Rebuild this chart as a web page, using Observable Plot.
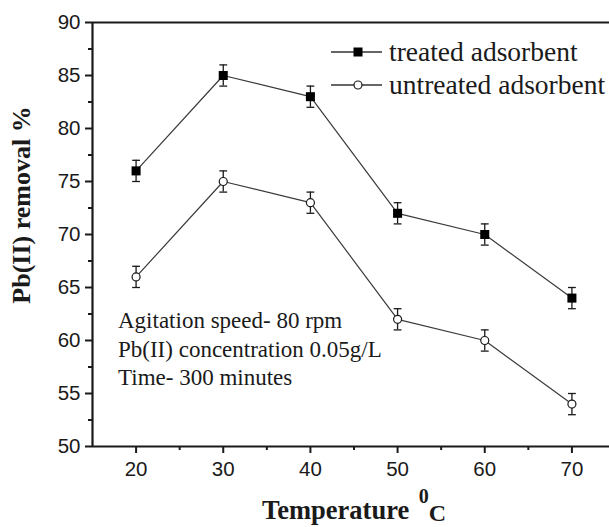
<!DOCTYPE html>
<html><head><meta charset="utf-8">
<script src="https://cdn.jsdelivr.net/npm/d3@7"></script>
<script src="https://cdn.jsdelivr.net/npm/@observablehq/plot@0.6"></script>
<style>
body{margin:0;background:#fff}
#chart{position:relative;width:609px;height:527px;overflow:hidden}
#chart svg text.serif{font-family:"Liberation Serif","Times New Roman",serif !important}
</style>
</head><body><div id="chart"></div>
<script>
const temps = [20, 30, 40, 50, 60, 70];
const treated = [76, 85, 83, 72, 70, 64];
const untreated = [66, 75, 73, 62, 60, 54];
const errTreated = [1, 1, 1, 1, 1, 1];
const errUntreated = [1, 1, 1, 1, 1, 1];
const seriesNames = ["treated adsorbent", "untreated adsorbent"];
const xTicks = [20, 30, 40, 50, 60, 70];
const xMinor = [25, 35, 45, 55, 65];
const yTicks = [50, 55, 60, 65, 70, 75, 80, 85, 90];
const yMinor = [52.5, 57.5, 62.5, 67.5, 72.5, 77.5, 82.5, 87.5];
const annotation = ["Agitation speed- 80 rpm", "Pb(II) concentration 0.05g/L", "Time- 300 minutes"];
const yTitle = "Pb(II) removal %";
const xTitle = "Temperature";

const data = [];
temps.forEach((t, i) => {
  data.push({series: seriesNames[0], t, v: treated[i], e: errTreated[i]});
  data.push({series: seriesNames[1], t, v: untreated[i], e: errUntreated[i]});
});
const dT = data.filter(d => d.series === seriesNames[0]);
const dU = data.filter(d => d.series === seriesNames[1]);

const ink = "#1a1a1a";
const plot = Plot.plot({
  width: 609, height: 527,
  marginLeft: 92, marginTop: 22, marginBottom: 81, marginRight: -6,
  style: {background: "#fff", fontFamily: "'Liberation Sans', Arial, sans-serif", color: ink},
  x: {domain: [15, 75], axis: null},
  y: {domain: [50, 90], axis: null},
  marks: [
    Plot.axisX(xTicks, {label: null, tickSize: 7, tickPadding: 8, fontSize: 20.5, stroke: ink, strokeWidth: 2, fill: ink}),
    Plot.axisX(xMinor, {label: null, tickSize: 4, tickFormat: () => "", stroke: ink, strokeWidth: 2}),
    Plot.axisY(yTicks, {label: null, tickSize: 7, tickPadding: 5, fontSize: 20.5, stroke: ink, strokeWidth: 2, fill: ink}),
    Plot.axisY(yMinor, {label: null, tickSize: 4, tickFormat: () => "", stroke: ink, strokeWidth: 2}),
    Plot.ruleY([50], {stroke: ink, strokeWidth: 2.2}),
    Plot.ruleY([90], {stroke: ink, strokeWidth: 2.2}),
    Plot.ruleX([15], {stroke: ink, strokeWidth: 2.2}),
    Plot.line(data, {x: "t", y: "v", z: "series", stroke: "#3a3a3a", strokeWidth: 1.2}),
    Plot.ruleX(data, {x: "t", y1: d => d.v - d.e, y2: d => d.v + d.e, stroke: ink, strokeWidth: 1.3}),
    Plot.link(data, {x1: d => d.t - 0.45, x2: d => d.t + 0.45, y1: d => d.v + d.e, y2: d => d.v + d.e, stroke: ink, strokeWidth: 1.3}),
    Plot.link(data, {x1: d => d.t - 0.45, x2: d => d.t + 0.45, y1: d => d.v - d.e, y2: d => d.v - d.e, stroke: ink, strokeWidth: 1.3}),
    Plot.dot(dT, {x: "t", y: "v", symbol: "square", r: 5.1, fill: "#000", stroke: "none"}),
    Plot.dot(dU, {x: "t", y: "v", symbol: "circle", r: 4, fill: "#fff", stroke: ink, strokeWidth: 1.2})
  ]
});
document.getElementById("chart").appendChild(plot);

const svg = d3.select(plot);
// legend
const leg = svg.append("g").attr("text-anchor", "start");
seriesNames.forEach((name, i) => {
  const y = 52 + i * 33;
  leg.append("line").attr("x1", 331).attr("x2", 382).attr("y1", y).attr("y2", y).attr("stroke", "#333").attr("stroke-width", 1.3);
  if (i === 0) leg.append("rect").attr("x", 353.5).attr("y", y - 4.5).attr("width", 9).attr("height", 9).attr("fill", "#000");
  else leg.append("circle").attr("cx", 358).attr("cy", y).attr("r", 4).attr("fill", "#fff").attr("stroke", ink).attr("stroke-width", 1.2);
  leg.append("text").attr("class", "serif").attr("x", 389).attr("y", y).attr("dy", "0.33em").style("font-size", "27.5px").attr("fill", ink).text(name);
});
// annotation
const ann = svg.append("g").attr("text-anchor", "start");
annotation.forEach((s, i) => {
  ann.append("text").attr("class", "serif").attr("x", 118).attr("y", 328 + i * 28.5).style("font-size", "23px").attr("fill", ink).text(s);
});
// y title
svg.append("text").attr("class", "serif").attr("transform", "translate(30,205) rotate(-90)").attr("text-anchor", "middle")
  .style("font-weight", "bold").style("font-size", "26px").attr("fill", ink).text(yTitle);
// x title
const xt = svg.append("text").attr("class", "serif").attr("x", 262).attr("y", 519).attr("text-anchor", "start").style("font-weight", "bold").style("font-size", "26.5px").attr("fill", ink);
xt.append("tspan").text(xTitle + " ");
xt.append("tspan").attr("dy", -16).attr("dx", 3).style("font-size", "20px").text("0");
xt.append("tspan").attr("dy", 18).style("font-size", "24px").text("C");
</script>
</body></html>
